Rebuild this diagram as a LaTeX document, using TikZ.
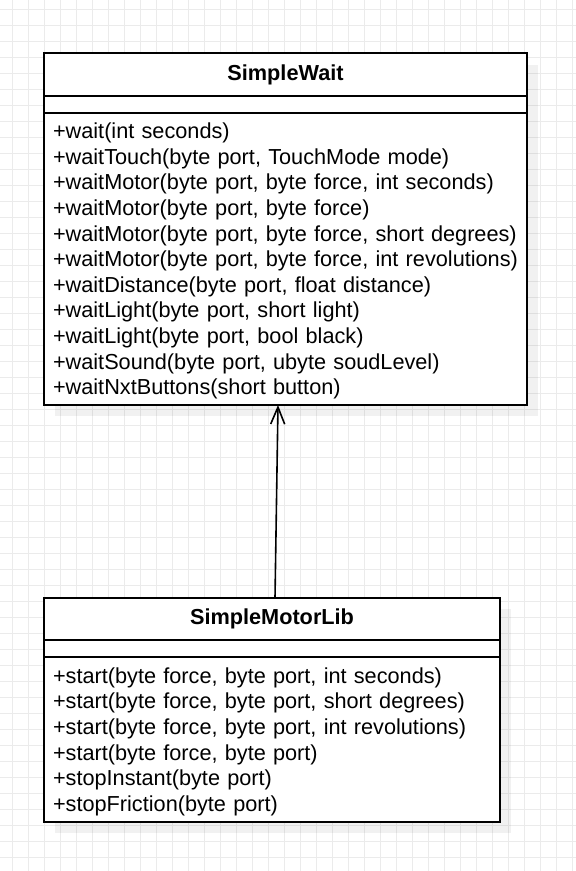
\documentclass[tikz,border=0pt]{standalone}
\usepackage{fontspec}
\setmainfont{Liberation Sans}
\usetikzlibrary{arrows.meta,calc}
\definecolor{gridc}{HTML}{EBEBEB}
\newcommand{\topstrut}{\rule{0pt}{20pt}}
\begin{document}
\begin{tikzpicture}[x=1pt,y=-1pt,
  box/.style={draw=black, line width=1.8pt, fill=white, rectangle, inner sep=0pt, outer sep=0pt, anchor=north west},
  head/.style={box, font=\fontsize{21.7}{25.5}\selectfont\bfseries},
  meth/.style={box, align=left, inner xsep=9pt, font=\fontsize{21.7}{25.6}\selectfont, text width=#1},
  shadowbox/.style={fill=black, opacity=0.055},
  gridline/.style={draw=gridc, line width=0.8pt},
  assoc/.style={line width=1.6pt, -{Straight Barb[length=17pt,width=14pt]}}
]
\useasboundingbox (0,0) rectangle (576,871);
\fill[white] (0,0) rectangle (576,871);
\foreach \i in {0,...,35} \draw[gridline] (12.7+16*\i,0) -- (12.7+16*\i,871);
\foreach \i in {0,...,54} \draw[gridline] (0,9.3+16*\i) -- (576,9.3+16*\i);
% shadows
\fill[shadowbox] (55,65) rectangle (538,416);
\fill[shadowbox] (55,609) rectangle (511,833);
% SimpleWait
\node[head, minimum width=483pt, minimum height=43pt] (swh) at (44,53) {SimpleWait};
\node[box, minimum width=483pt, minimum height=17pt] (swa) at (swh.south west) {};
\node[meth=465pt, minimum height=292pt] (swm) at (swa.south west) {%
\topstrut+wait(int seconds)\\
+waitTouch(byte port, TouchMode mode)\\
+waitMotor(byte port, byte force, int seconds)\\
+waitMotor(byte port, byte force)\\
+waitMotor(byte port, byte force, short degrees)\\
+waitMotor(byte port, byte force, int revolutions)\\
+waitDistance(byte port, float distance)\\
+waitLight(byte port, short light)\\
+waitLight(byte port, bool black)\\
+waitSound(byte port, ubyte soudLevel)\\
+waitNxtButtons(short button)};
% SimpleMotorLib
\node[head, minimum width=456pt, minimum height=42pt] (smh) at (44,598) {SimpleMotorLib};
\node[box, minimum width=456pt, minimum height=17pt] (sma) at (smh.south west) {};
\node[meth=438pt, minimum height=165pt] (smm) at (sma.south west) {%
\topstrut+start(byte force, byte port, int seconds)\\
+start(byte force, byte port, short degrees)\\
+start(byte force, byte port, int revolutions)\\
+start(byte force, byte port)\\
+stopInstant(byte port)\\
+stopFriction(byte port)};
% association
\draw[assoc] ([xshift=3pt]smh.north) -- ([xshift=-7.5pt]swm.south);
\end{tikzpicture}
\end{document}
